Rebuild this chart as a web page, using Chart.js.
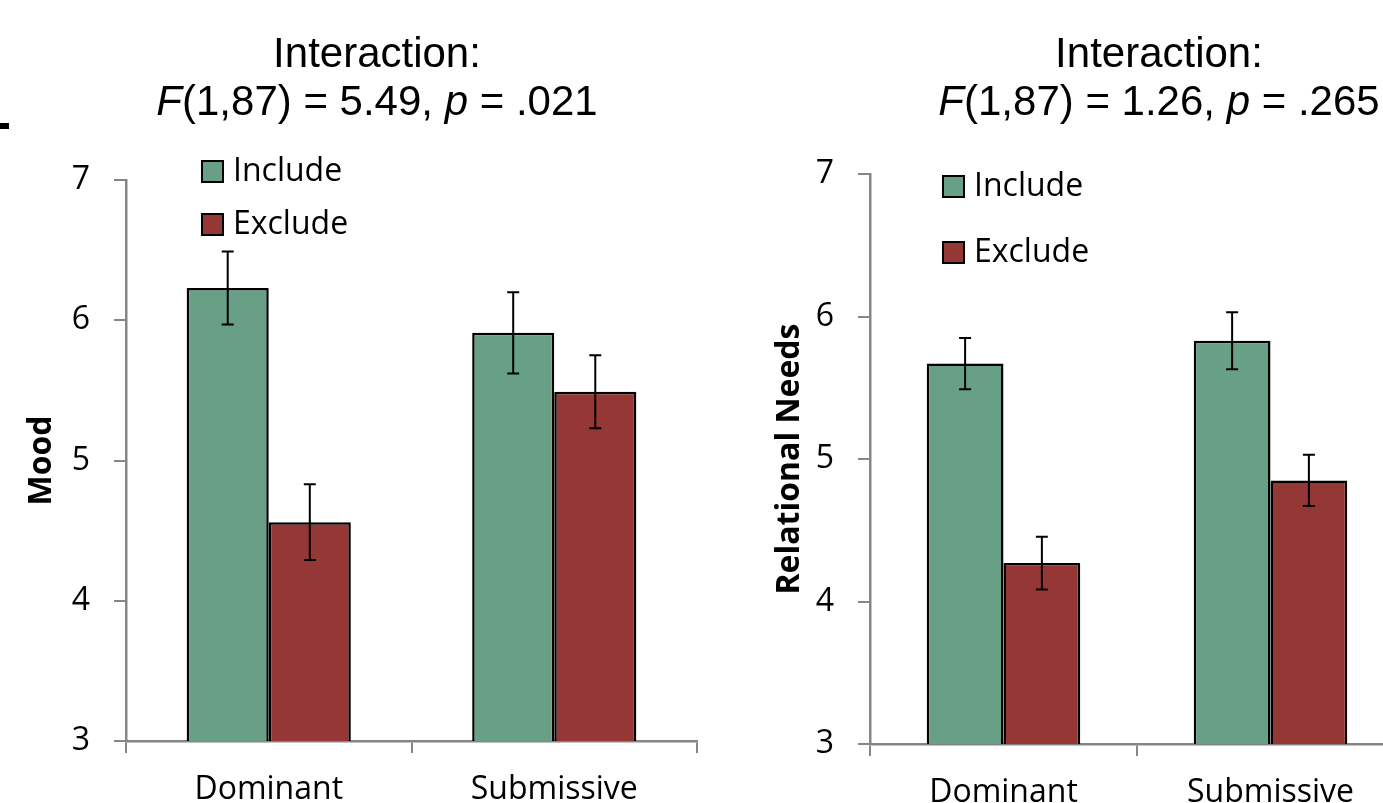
<!DOCTYPE html>
<html>
<head>
<meta charset="utf-8">
<script src="https://cdn.jsdelivr.net/npm/chart.js@4"></script>
<style>
  html, body { margin: 0; padding: 0; background: #fff; overflow: hidden; }
  body { width: 1383px; height: 803px; position: relative; }
  canvas { position: absolute; top: 0; }
  #moodChart { left: 0; }
  #needsChart { left: 700px; }
  .mark { position: absolute; left: 0; top: 123px; width: 9px; height: 6px; background: #000; }
</style>
</head>
<body>
<div class="mark"></div>
<canvas id="moodChart" width="700" height="803"></canvas>
<canvas id="needsChart" width="706" height="803"></canvas>
<script>
var categories = ["Dominant", "Submissive"];
var seriesNames = ["Include", "Exclude"];

var moodInclude = [6.23, 5.91];
var moodExclude = [4.56, 5.49];
var moodIncludeErr = [0.26, 0.29];
var moodExcludeErr = [0.27, 0.26];

var needsInclude = [5.67, 5.83];
var needsExclude = [4.27, 4.85];
var needsIncludeErr = [0.18, 0.20];
var needsExcludeErr = [0.185, 0.18];

var yMin = 3, yMax = 7, yStep = 1;

var moodTitle = ["Interaction:", [["F", true], ["(1,87) = 5.49, ", false], ["p", true], [" = .021", false]]];
var needsTitle = ["Interaction:", [["F", true], ["(1,87) = 1.26, ", false], ["p", true], [" = .265", false]]];

var green = "#67a087";
var red = "#953735";
var axisGray = "#868686";
var tickFont = "'Open Sans', 'Noto Sans', sans-serif";

// error bars drawn from the errors stored on each dataset
var errorBars = {
    id: 'errorBars',
    afterDatasetsDraw: function(chart) {
        var ctx = chart.ctx;
        var y = chart.scales.y;
        ctx.save();
        ctx.strokeStyle = "#000";
        ctx.lineWidth = 2;
        chart.data.datasets.forEach(function(ds, i) {
            var meta = chart.getDatasetMeta(i);
            meta.data.forEach(function(bar, j) {
                var v = ds.data[j], e = ds.errors[j];
                var top = y.getPixelForValue(v + e);
                var bot = y.getPixelForValue(v - e);
                ctx.beginPath();
                ctx.moveTo(bar.x, top); ctx.lineTo(bar.x, bot);
                ctx.moveTo(bar.x - 6, top); ctx.lineTo(bar.x + 6, top);
                ctx.moveTo(bar.x - 6, bot); ctx.lineTo(bar.x + 6, bot);
                ctx.stroke();
            });
        });
        ctx.restore();
    }
};

// legend inside the plot, one entry per row
var boxLegend = {
    id: 'boxLegend',
    afterDraw: function(chart, args, opts) {
        var ctx = chart.ctx;
        ctx.save();
        ctx.font = "32px " + tickFont;
        ctx.textBaseline = "middle";
        chart.data.datasets.forEach(function(ds, i) {
            var cy = opts.y + i * opts.gap;
            ctx.fillStyle = ds.backgroundColor;
            ctx.fillRect(opts.x, cy - 10, 21, 21);
            ctx.strokeStyle = "#000";
            ctx.lineWidth = 2;
            ctx.strokeRect(opts.x, cy - 10, 21, 21);
            ctx.fillStyle = "#000";
            ctx.fillText(ds.label, opts.x + 31, cy + 1);
        });
        ctx.restore();
    }
};

// two-line title with italic F and p
var richTitle = {
    id: 'richTitle',
    afterDraw: function(chart, args, opts) {
        var ctx = chart.ctx;
        var fam = "'Liberation Sans', Arial, sans-serif";
        ctx.save();
        ctx.fillStyle = "#000";
        ctx.textBaseline = "alphabetic";
        ctx.font = "42px " + fam;
        ctx.textAlign = "center";
        ctx.fillText(opts.lines[0], opts.x, opts.y1);
        ctx.textAlign = "left";
        var parts = opts.lines[1];
        var total = 0;
        parts.forEach(function(p) {
            ctx.font = (p[1] ? "italic " : "") + "42px " + fam;
            total += ctx.measureText(p[0]).width;
        });
        var x = opts.x - total / 2;
        parts.forEach(function(p) {
            ctx.font = (p[1] ? "italic " : "") + "42px " + fam;
            ctx.fillText(p[0], x, opts.y2);
            x += ctx.measureText(p[0]).width;
        });
        ctx.restore();
    }
};

function makeChart(id, inc, exc, incErr, excErr, yTitle, cfg) {
    return new Chart(document.getElementById(id), {
        type: 'bar',
        data: {
            labels: categories,
            datasets: [{
                label: seriesNames[0],
                data: inc,
                errors: incErr,
                backgroundColor: green,
                borderColor: "#000",
                borderWidth: 2.5
            }, {
                label: seriesNames[1],
                data: exc,
                errors: excErr,
                backgroundColor: red,
                borderColor: "#000",
                borderWidth: 2.5
            }]
        },
        options: {
            responsive: false,
            animation: false,
            categoryPercentage: 0.575,
            barPercentage: 1.0,
            layout: { padding: { left: 0, right: cfg.padRight, top: cfg.top, bottom: 0 } },
            plugins: {
                legend: { display: false },
                tooltip: { enabled: false },
                boxLegend: cfg.legend,
                richTitle: cfg.title
            },
            scales: {
                x: {
                    afterFit: function(s) { s.height = cfg.xHeight; },
                    grid: { drawOnChartArea: false, tickLength: 12, color: axisGray, lineWidth: 2 },
                    border: { color: axisGray, width: 2.5 },
                    ticks: { color: "#000", font: { family: tickFont, size: 32 }, padding: 18 }
                },
                y: {
                    min: yMin,
                    max: yMax,
                    afterFit: function(s) { s.width = cfg.yWidth; },
                    grid: { drawOnChartArea: false, tickLength: 12, color: axisGray, lineWidth: 2 },
                    border: { color: axisGray, width: 2.5 },
                    ticks: { stepSize: yStep, color: "#000", font: { family: tickFont, size: 32 }, padding: 24 },
                    title: {
                        display: true,
                        text: yTitle,
                        color: "#000",
                        font: { family: tickFont, size: 32, weight: 'bold' },
                        padding: { top: cfg.titlePad, bottom: 0 }
                    }
                }
            }
        },
        plugins: [errorBars, boxLegend, richTitle]
    });
}

makeChart('moodChart', moodInclude, moodExclude, moodIncludeErr, moodExcludeErr, "Mood", {
    top: 180, padRight: 3, xHeight: 62, yWidth: 126, titlePad: 23,
    legend: { x: 202, y: 171, gap: 53 },
    title: { x: 377, y1: 67, y2: 115, lines: moodTitle }
});

makeChart('needsChart', needsInclude, needsExclude, needsIncludeErr, needsExcludeErr, "Relational Needs", {
    top: 174, padRight: 2, xHeight: 59, yWidth: 170, titlePad: 71,
    legend: { x: 243, y: 186, gap: 66 },
    title: { x: 459, y1: 67, y2: 115, lines: needsTitle }
});
</script>
</body>
</html>
